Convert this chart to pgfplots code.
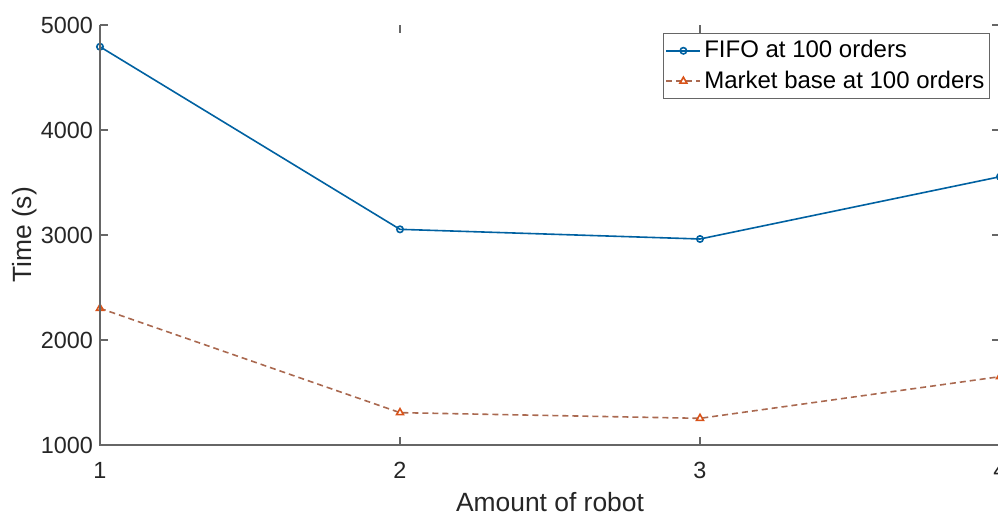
\documentclass[border=0pt]{standalone}
\usepackage{fontspec}
\setmainfont{Liberation Sans}
\usepackage{pgfplots}
\pgfplotsset{compat=1.18}
\definecolor{mblue}{RGB}{0,114,189}
\definecolor{morange}{RGB}{217,83,25}
\definecolor{mline}{RGB}{170,105,80}
\definecolor{axgray}{RGB}{102,102,102}
\definecolor{txt}{RGB}{38,38,38}
\begin{document}
\begin{tikzpicture}
\begin{axis}[
 name=ax,
 scale only axis,
 width=450pt, height=210pt,
 xmin=1, xmax=4, ymin=1000, ymax=5000,
 xtick={1,2,3,4}, ytick={1000,2000,3000,4000,5000},
 /pgf/number format/assume math mode=true,
 /pgf/number format/1000 sep={},
 scaled y ticks=false,
 tick align=inside,
 major tick length=4pt,
 tick style={axgray, line width=0.6pt},
 axis line style={draw=none},
 tick label style={font=\fontsize{11.7}{14}\selectfont, text=txt},
 xticklabel style={yshift=-5pt},
 label style={font=\fontsize{13.2}{15}\selectfont, text=txt},
 xlabel={Amount of robot},
 ylabel={Time (s)},
 xlabel style={at={(axis description cs:0.5,-0.1595)}, anchor=base},
 ylabel style={at={(axis description cs:-0.0756,0.5)}, anchor=base},
 legend style={at={(0.9889,0.981)}, anchor=north east, draw=axgray, line width=0.6pt,
   font=\fontsize{12}{14}\selectfont, inner xsep=1pt, inner ysep=1pt,
   nodes={inner xsep=1.5pt, inner ysep=2.5pt}},
 legend cell align=left,
]
\addplot[mblue!85!black, line width=0.8pt, mark=o, mark size=1.6pt, mark options={solid}]
 coordinates {(1,4793) (2,3054) (3,2962) (4,3555)};
\addlegendentry{FIFO at 100 orders}
\addplot[mline, line width=0.8pt, dash pattern=on 3pt off 2pt, mark=triangle, mark size=2pt, mark options={solid, draw=morange}]
 coordinates {(1,2302) (2,1308) (3,1254) (4,1651)};
\addlegendentry{Market base at 100 orders}
\end{axis}
\draw[axgray, line width=0.6pt] (ax.north west) -- (ax.south west) -- (ax.south east);
\pgfresetboundingbox
\path ([shift={(-50pt,-35pt)}]ax.south west) rectangle ([shift={(-1pt,12.5pt)}]ax.north east);
\end{tikzpicture}
\end{document}
